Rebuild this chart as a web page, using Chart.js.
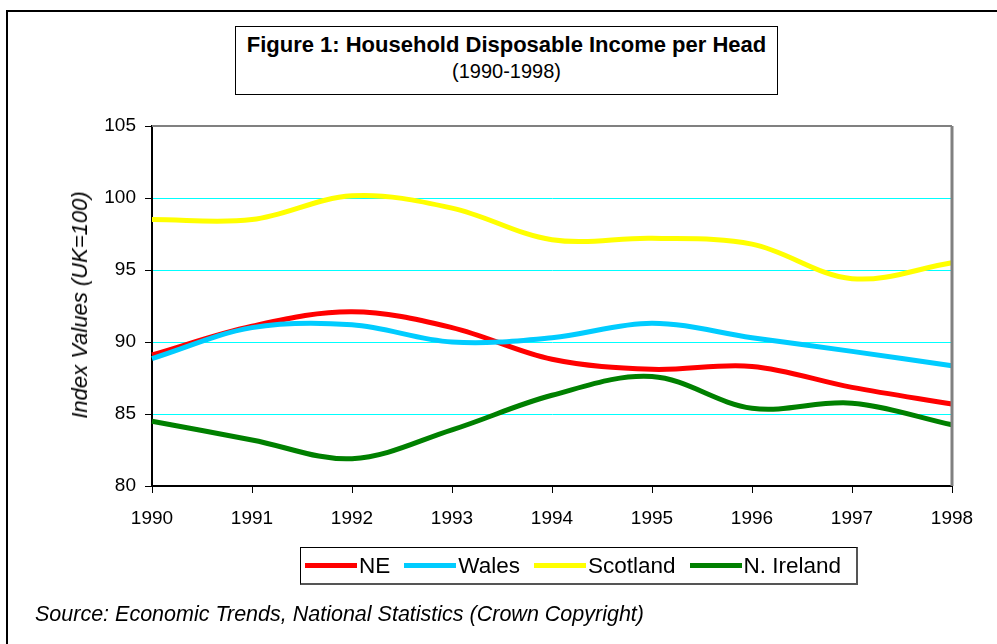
<!DOCTYPE html>
<html>
<head>
<meta charset="utf-8">
<script src="https://cdn.jsdelivr.net/npm/chart.js@4"></script>
<style>
  body { margin: 0; background: #fff; overflow: hidden; font-family: "Liberation Sans", Arial, sans-serif; }
  #wrap { position: relative; width: 997px; height: 644px; overflow: hidden; }
  #frame { position: absolute; left: 6px; top: 10px; width: 1100px; height: 800px; border: 2px solid #000; }
  #titleBox { position: absolute; left: 235px; top: 26px; width: 541px; height: 67px; border: 1px solid #000; background: #fff; text-align: center; }
  #titleBox .t1 { font-weight: bold; font-size: 22px; margin-top: 5px; line-height: 25px; }
  #titleBox .t2 { font-size: 20px; margin-top: 2px; line-height: 24px; }
  #yTitle { position: absolute; left: 80px; top: 305px; transform: translate(-50%, -50%) rotate(-90deg); font-style: italic; font-size: 22px; white-space: nowrap; }
  #legend { position: absolute; left: 300px; top: 547px; width: 551px; height: 35px; border: 1px solid #000; border-right-width: 2px; border-bottom-width: 2px; border-right-color: #555; border-bottom-color: #555; display: flex; align-items: center; justify-content: flex-start; padding-left: 4px; box-sizing: content-box; font-size: 22.5px; }
  #legend .item { display: flex; align-items: center; margin-right: 14px; }
  #legend .swatch { width: 52px; height: 5px; margin-right: 2px; }
  #source { position: absolute; left: 35px; top: 602px; font-style: italic; font-size: 21.5px; }
  canvas { position: absolute; left: 0; top: 0; }
</style>
</head>
<body>
<div id="wrap">
  <div id="frame"></div>
  <canvas id="incomeChart" width="997" height="644"></canvas>
  <div id="titleBox">
    <div class="t1">Figure 1: Household Disposable Income per Head</div>
    <div class="t2">(1990-1998)</div>
  </div>
  <div id="yTitle">Index Values (UK=100)</div>
  <div id="legend"></div>
  <div id="source">Source: Economic Trends, National Statistics (Crown Copyright)</div>
</div>
<script>
const years = ['1990', '1991', '1992', '1993', '1994', '1995', '1996', '1997', '1998'];
const ne = [89.1, 91.1, 92.1, 91.0, 88.8, 88.1, 88.3, 86.85, 85.7];
const wales = [88.85, 91.0, 91.2, 90.0, 90.3, 91.3, 90.3, 89.35, 88.35];
const scotland = [98.5, 98.5, 100.15, 99.3, 97.1, 97.2, 96.8, 94.4, 95.5];
const nIreland = [84.5, 83.2, 81.9, 83.9, 86.3, 87.6, 85.4, 85.75, 84.25];

document.addEventListener('DOMContentLoaded', function() {
    // top and right plot border in grey
    const plotBorder = {
        id: 'plotBorder',
        afterDatasetsDraw(chart) {
            const a = chart.chartArea;
            const ctx = chart.ctx;
            ctx.save();
            ctx.strokeStyle = '#808080';
            ctx.lineWidth = 2;
            ctx.beginPath();
            ctx.moveTo(a.left, a.top);
            ctx.lineTo(a.right, a.top);
            ctx.stroke();
            ctx.lineWidth = 3;
            ctx.beginPath();
            ctx.moveTo(a.right, a.top);
            ctx.lineTo(a.right, a.bottom);
            ctx.stroke();
            ctx.restore();
        }
    };

    const ctx = document.getElementById('incomeChart').getContext('2d');
    const chart = new Chart(ctx, {
        type: 'line',
        data: {
            labels: years,
            datasets: [
                { label: 'NE', data: ne, borderColor: '#ff0000', order: 4 },
                { label: 'Wales', data: wales, borderColor: '#00ccff', order: 3 },
                { label: 'Scotland', data: scotland, borderColor: '#ffff00', order: 2 },
                { label: 'N. Ireland', data: nIreland, borderColor: '#008000', order: 1 }
            ]
        },
        options: {
            responsive: false,
            animation: false,
            layout: { padding: { top: 126, right: 45, bottom: 0, left: 0 } },
            elements: {
                line: { borderWidth: 5, tension: 0.35, fill: false },
                point: { radius: 0 }
            },
            plugins: {
                legend: { display: false },
                title: { display: false },
                tooltip: { enabled: false }
            },
            scales: {
                x: {
                    offset: false,
                    afterFit: function(scale) { scale.height = 158; },
                    grid: { drawOnChartArea: false, tickColor: '#000', tickLength: 7, tickWidth: 1 },
                    border: { color: '#000', width: 2 },
                    ticks: { color: '#000', padding: 14, maxRotation: 0, font: { family: 'Liberation Sans', size: 19 } }
                },
                y: {
                    min: 80,
                    max: 105,
                    afterFit: function(scale) { scale.width = 152; },
                    grid: {
                        color: function(c) {
                            const v = c.tick ? c.tick.value : 0;
                            return (v > 80 && v < 105) ? '#00ffff' : 'rgba(0,0,0,0)';
                        },
                        lineWidth: 1,
                        tickColor: '#000',
                        tickLength: 7
                    },
                    border: { color: '#000', width: 2 },
                    ticks: { stepSize: 5, color: '#000', padding: 9, font: { family: 'Liberation Sans', size: 19 } }
                }
            }
        },
        plugins: [plotBorder]
    });

    // html legend built from the datasets
    const legend = document.getElementById('legend');
    chart.data.datasets.forEach(ds => {
        const item = document.createElement('div');
        item.className = 'item';
        const sw = document.createElement('span');
        sw.className = 'swatch';
        sw.style.backgroundColor = ds.borderColor;
        const txt = document.createElement('span');
        txt.textContent = ds.label;
        item.appendChild(sw);
        item.appendChild(txt);
        legend.appendChild(item);
    });
});
</script>
</body>
</html>
